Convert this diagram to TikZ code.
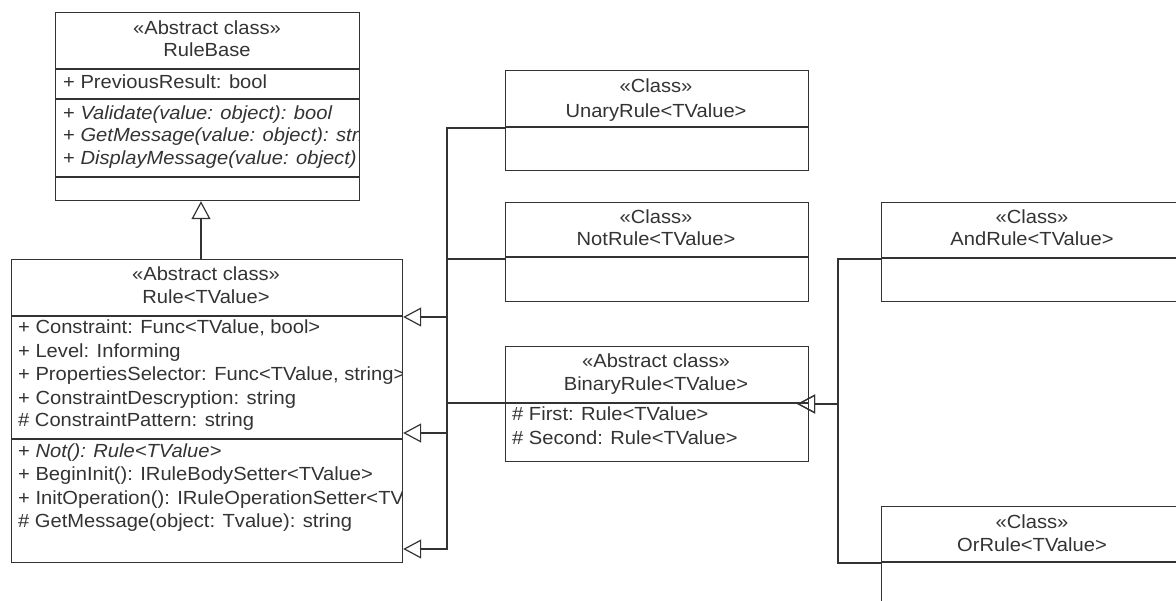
\documentclass[tikz,border=0pt]{standalone}
\usepackage{fontspec}
\setmainfont[FakeStretch=1.06]{Liberation Sans}
\usetikzlibrary{arrows.meta}
\definecolor{ink}{HTML}{333333}
\begin{document}
\begin{tikzpicture}[x=1pt,y=-1pt,
  box/.style={draw=ink,line width=1.2pt,rectangle,inner sep=0pt,anchor=north west},
  lbl/.style={text=ink,inner sep=0pt,font=\fontsize{19}{23}\selectfont},
  ctr/.style={lbl,anchor=mid},
  lft/.style={lbl,anchor=mid west},
  conn/.style={draw=ink,line width=1.2pt},
  gen/.style={conn,-{Triangle[open,length=18pt,width=19pt,line width=1.2pt]}}]
\useasboundingbox (0,0) rectangle (1176,601);
\clip (0,0) rectangle (1176,601);

% ---------- RuleBase ----------
\node[box,minimum width=304pt,minimum height=188pt] (rulebase) at (55,12) {};
\draw[conn] (55,69) -- (359,69) (55,99) -- (359,99) (55,177) -- (359,177);
\begin{scope}
\clip (55,12) rectangle (358,200);
\node[ctr] (rb1) at (207,32) {«Abstract class»};
\node[ctr] (rb2) at (207,54) {RuleBase};
\node[lft] (rb3) at (63,86) {+ PreviousResult: bool};
\node[lft] (rb4) at (63,117) {+ \textit{Validate(value: object): bool}};
\node[lft] (rb5) at (63,139) {+ \textit{GetMessage(value: object): string}};
\node[lft] (rb6) at (63,162) {+ \textit{DisplayMessage(value: object)}};
\end{scope}

% ---------- Rule ----------
\node[box,minimum width=391pt,minimum height=303pt] (rule) at (11,259) {};
\draw[conn] (11,316) -- (402,316) (11,439) -- (402,439);
\begin{scope}
\clip (11,259) rectangle (401,562);
\node[ctr] (r1) at (206,278) {«Abstract class»};
\node[ctr] (r2) at (206,301) {Rule<TValue>};
\node[lft] (r3) at (18,331) {+ Constraint: Func<TValue, bool>};
\node[lft] (r4) at (18,355) {+ Level: Informing};
\node[lft] (r5) at (18,378) {+ PropertiesSelector: Func<TValue, string>};
\node[lft] (r6) at (18,402) {+ ConstraintDescryption: string};
\node[lft] (r7) at (18,424) {\# ConstraintPattern: string};
\node[lft] (r8) at (18,455) {+ \textit{Not(): Rule<TValue>}};
\node[lft] (r9) at (18,478) {+ BeginInit(): IRuleBodySetter<TValue>};
\node[lft] (r10) at (18,502) {+ InitOperation(): IRuleOperationSetter<TValue>};
\node[lft] (r11) at (18,525) {\# GetMessage(object: Tvalue): string};
\end{scope}

% ---------- UnaryRule ----------
\node[box,minimum width=303pt,minimum height=100pt] (unary) at (505,70) {};
\draw[conn] (505,127) -- (808,127);
\node[ctr] (u1) at (656,90) {«Class»};
\node[ctr] (u2) at (656,115) {UnaryRule<TValue>};

% ---------- NotRule ----------
\node[box,minimum width=303pt,minimum height=99pt] (notr) at (505,202) {};
\draw[conn] (505,257) -- (808,257);
\node[ctr] (n1) at (656,221) {«Class»};
\node[ctr] (n2) at (656,243) {NotRule<TValue>};

% ---------- BinaryRule ----------
\node[box,minimum width=303pt,minimum height=115pt] (binary) at (505,346) {};
\draw[conn] (505,403) -- (808,403);
\node[ctr] (b1) at (656,365) {«Abstract class»};
\node[ctr] (b2) at (656,388) {BinaryRule<TValue>};
\node[lft] (b3) at (512,418) {\# First: Rule<TValue>};
\node[lft] (b4) at (512,442) {\# Second: Rule<TValue>};

% ---------- AndRule ----------
\node[box,minimum width=303pt,minimum height=99pt] (andr) at (881,202) {};
\draw[conn] (881,258) -- (1184,258);
\node[ctr] (a1) at (1032,221) {«Class»};
\node[ctr] (a2) at (1032,243) {AndRule<TValue>};

% ---------- OrRule ----------
\node[box,minimum width=303pt,minimum height=150pt] (orr) at (881,506) {};
\draw[conn] (881,562) -- (1184,562);
\node[ctr] (o1) at (1032,526) {«Class»};
\node[ctr] (o2) at (1032,549) {OrRule<TValue>};

% ---------- helper levels ----------
\coordinate (vT) at (201,0);
\coordinate (vL) at (447,0);
\coordinate (vR) at (838,0);
\coordinate (hU) at (0,128);
\coordinate (hN) at (0,259);
\coordinate (hB) at (0,403);
\coordinate (hA) at (0,259);
\coordinate (hO) at (0,563);
\coordinate (t1) at (0,317);
\coordinate (t2) at (0,433);
\coordinate (t3) at (0,549);
\coordinate (tB) at (0,404);
\coordinate (bt) at ([xshift=-12pt]binary.east);

% ---------- generalizations ----------
\draw[gen] (rule.north -| vT) -- (rulebase.south -| vT);
\draw[gen] (unary.west |- hU) -| (vL |- t1) -- (rule.east |- t1);
\draw[gen] (notr.west |- hN) -| (vL |- t2) -- (rule.east |- t2);
\draw[gen] (binary.west |- hB) -| (vL |- t3) -- (rule.east |- t3);
\draw[gen] (andr.west |- hA) -| (vR |- tB) -- (bt |- tB);
\draw[gen] (orr.west |- hO) -| (vR |- tB) -- (bt |- tB);
\end{tikzpicture}
\end{document}
